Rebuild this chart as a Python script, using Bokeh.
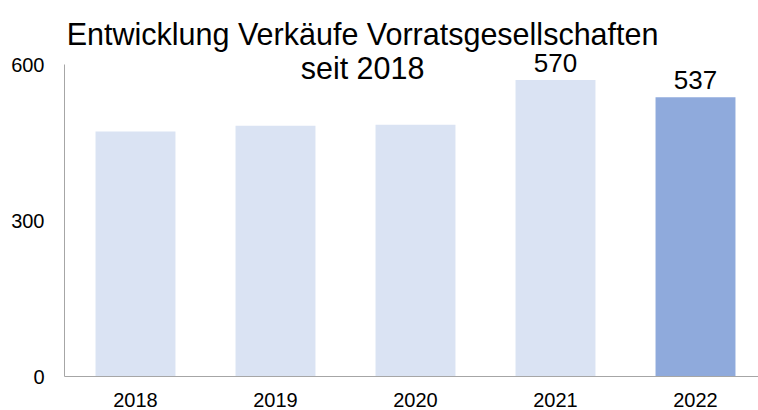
from bokeh.plotting import figure
from bokeh.models import Range1d, FixedTicker, Label, LabelSet, ColumnDataSource
from bokeh.core.properties import value
from bokeh.embed import file_html
from bokeh.resources import INLINE

# ---- data ----
years = ["2018", "2019", "2020", "2021", "2022"]
sales = [471, 482, 484, 570, 537]
labelled = ["", "", "", "570", "537"]
y_ticks = [0, 300, 600]
title_lines = ["Entwicklung Verkäufe Vorratsgesellschaften", "seit 2018"]

# ---- styles ----
LIGHT = "#dae3f3"
DARK = "#8faadc"
FONT = "Liberation Sans"
AXIS = "#a6a6a6"

xpos = list(range(1, len(years) + 1))
colors = [LIGHT] * (len(years) - 1) + [DARK]
src = ColumnDataSource(dict(x=xpos, sales=sales, color=colors, lab=labelled))

p = figure(frame_width=694, frame_height=376,
           x_range=Range1d(0.4929, 5.45), y_range=Range1d(0, 723.1),
           output_backend="svg", toolbar_location=None,
           min_border_left=64, min_border_right=0, min_border_top=0, min_border_bottom=0)

p.vbar(x="x", top="sales", width=0.571, source=src, fill_color="color", line_color=None)

p.xaxis.ticker = FixedTicker(ticks=xpos)
p.xaxis.major_label_overrides = {x: y for x, y in zip(xpos, years)}
p.yaxis.ticker = FixedTicker(ticks=y_ticks)
p.yaxis.bounds = (0, 600)
for ax in (p.xaxis, p.yaxis):
    ax.axis_line_color = AXIS
    ax.axis_line_width = 1
    ax.major_tick_line_color = None
    ax.minor_tick_line_color = None
    ax.major_label_text_font = FONT
    ax.major_label_text_font_size = "20px"
    ax.major_label_text_color = "#000000"
p.xaxis.major_label_standoff = 10
p.yaxis.major_label_standoff = 14

p.grid.visible = False
p.outline_line_color = None
p.background_fill_color = "white"
p.border_fill_color = "white"

p.add_layout(LabelSet(x="x", y="sales", text="lab", source=src, y_offset=8,
                      text_align="center", text_baseline="alphabetic",
                      text_font=value(FONT), text_font_size=value("26px"),
                      text_color="#000000"))

p.add_layout(Label(x=2.622, y=659.6, text=title_lines[0], text_align="center",
                   text_baseline="alphabetic", text_font=FONT, text_font_size="30.5px",
                   text_color="#000000"))
p.add_layout(Label(x=2.622, y=593.3, text=title_lines[1], text_align="center",
                   text_baseline="alphabetic", text_font=FONT, text_font_size="30.5px",
                   text_color="#000000"))

open("out.html", "w").write(file_html(p, INLINE))
